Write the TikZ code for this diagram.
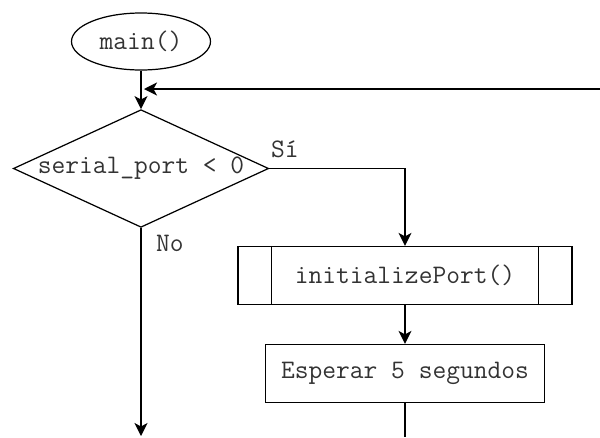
\documentclass[tikz,border=0pt]{standalone}
\usepackage{fontspec}
\usepackage{tikz}
\usetikzlibrary{arrows.meta, positioning, shapes.geometric}

\begin{document}
\begin{tikzpicture}[
  every node/.style={font=\ttfamily\fontsize{15.2}{17}\selectfont, text=black!80},
  term/.style={draw, ellipse, minimum width=2.78cm, minimum height=1.14cm, inner sep=0pt, line width=0.7pt},
  cond/.style={draw, diamond, aspect=2.17, minimum width=5.08cm, minimum height=2.34cm, inner sep=0pt, line width=0.7pt},
  proc/.style={draw, rectangle, minimum height=1.16cm, line width=0.7pt},
  arr/.style={-{Stealth[length=2.6mm, width=2.6mm, inset=0.7mm]}, line width=0.8pt},
  lin/.style={line width=0.8pt}
]
\useasboundingbox (0,0) rectangle (12,-8.74);
\node[term] (start) at (2.82,-0.83) {main()};
\node[cond] (check) at (2.82,-3.37) {serial\_port < 0};
\node[proc, minimum width=6.68cm] (init) at (8.1,-5.51) {initializePort()};
\node[proc, minimum width=5.58cm] (wait) at (8.1,-7.47) {Esperar 5 segundos};
\node[anchor=south west, inner sep=1pt] (yes) at (5.38,-3.2) {Sí};
\node[anchor=north west, inner sep=1pt] (no) at (3.08,-4.66) {No};
\coordinate (back) at (12,-1.78);
\coordinate (join) at (2.88,-1.78);
\coordinate (noexit) at (2.82,-8.72);
\coordinate (waitexit) at (8.1,-8.74);
% subroutine bars
\draw[lin] ([xshift=0.68cm]init.north west) -- ([xshift=0.68cm]init.south west);
\draw[lin] ([xshift=-0.68cm]init.north east) -- ([xshift=-0.68cm]init.south east);
\draw[arr] (start) -- (check);
\draw[arr] (back) -- (join);
\draw[arr] (check.east) -| (init.north);
\draw[arr] (init) -- (wait);
\draw[arr] (check.south) -- (noexit);
\draw[lin] (wait.south) -- (waitexit);
\end{tikzpicture}
\end{document}
